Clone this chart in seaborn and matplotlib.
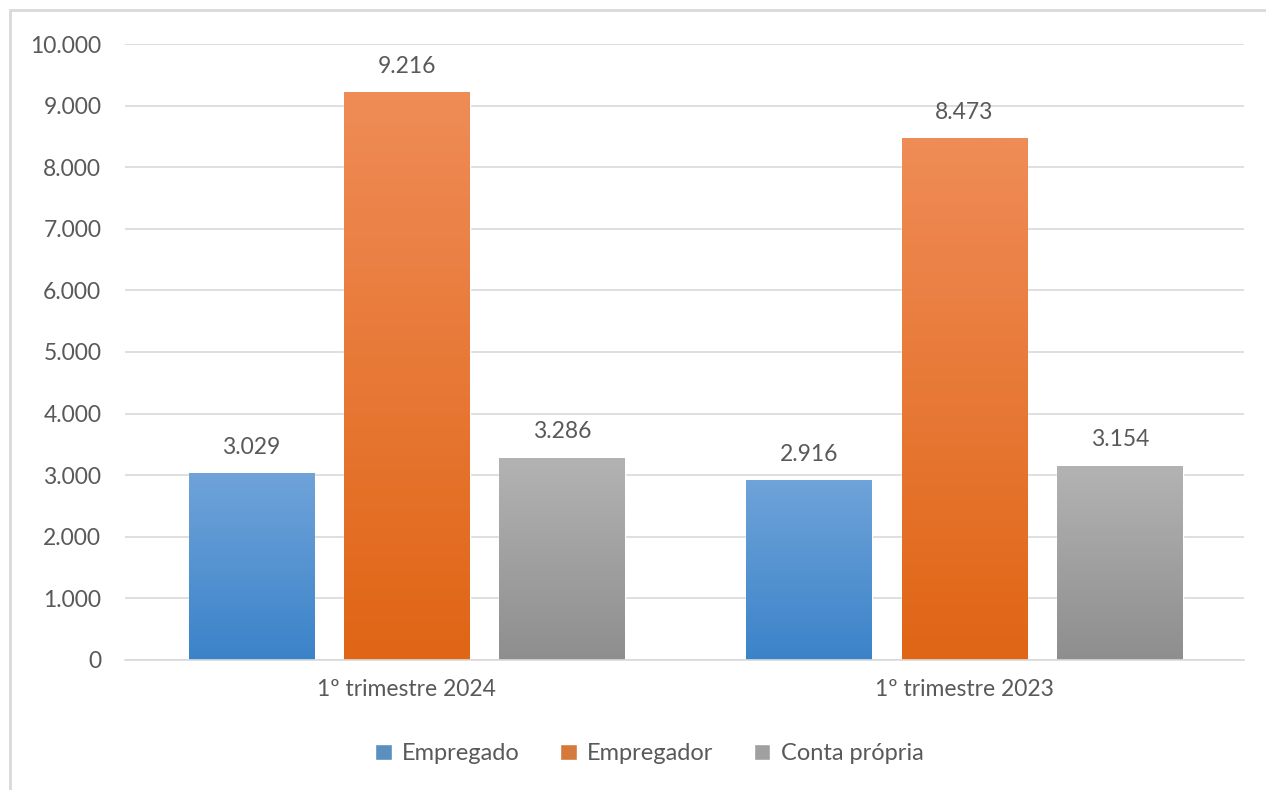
import numpy as np
import pandas as pd
import seaborn as sns
import matplotlib
matplotlib.use("Agg")
import matplotlib.pyplot as plt
from matplotlib.colors import LinearSegmentedColormap
from matplotlib.patches import Rectangle

periods = ["1º trimestre 2024", "1º trimestre 2023"]
series = ["Empregado", "Empregador", "Conta própria"]
empregado = [3029, 2916]
empregador = [9216, 8473]
conta_propria = [3286, 3154]

top_colors = ["#6fa3d9", "#ef8c57", "#b3b3b3"]
bottom_colors = ["#3b83c9", "#e06515", "#8e8e8e"]
base_colors = ["#4a8fd0", "#ee7424", "#a0a0a0"]

df = pd.DataFrame({
    "periodo": periods * 3,
    "serie": [s for s in series for _ in periods],
    "valor": empregado + empregador + conta_propria,
})

sns.set_theme(style="white")
plt.rcParams["font.family"] = ["Lato", "DejaVu Sans"]
text_col = "#595959"
fs = 16.5

fig = plt.figure(figsize=(12.66, 7.9), dpi=100)
ax = fig.add_axes([0.0987, 0.1646, 0.8843, 0.7797])

sns.barplot(data=df, x="periodo", y="valor", hue="serie", order=periods,
            hue_order=series, palette=base_colors, width=0.835, gap=0.19,
            ax=ax, legend=True)

# value labels
for cont in ax.containers:
    labels = [f"{v:,.0f}".replace(",", ".") for v in cont.datavalues]
    ax.bar_label(cont, labels=labels, padding=11, fontsize=fs, color=text_col)

# vertical gradients, clipped to each bar
for i, cont in enumerate(ax.containers):
    cmap = LinearSegmentedColormap.from_list(f"g{i}", [bottom_colors[i], top_colors[i]])
    for bar in cont.patches:
        x0, y0 = bar.get_x(), bar.get_y()
        w, h = bar.get_width(), bar.get_height()
        grad = np.linspace(0, 1, 256).reshape(-1, 1)
        im = ax.imshow(grad, extent=[x0, x0 + w, y0, y0 + h], origin="lower",
                       cmap=cmap, aspect="auto", zorder=bar.get_zorder() + 0.1)
        im.set_clip_path(bar)

ax.set_xlim(-0.505, 1.502)
ax.set_ylim(0, 10000)
ax.set_yticks(np.arange(0, 10001, 1000))
ax.set_yticklabels([f"{v:,.0f}".replace(",", ".") for v in np.arange(0, 10001, 1000)])
ax.set_xlabel("")
ax.set_ylabel("")
ax.grid(axis="y", color="#d9d9d9", linewidth=1.2)
ax.set_axisbelow(True)
for s in ["top", "right", "left"]:
    ax.spines[s].set_visible(False)
ax.spines["bottom"].set_color("#d9d9d9")
ax.spines["bottom"].set_linewidth(1.2)
ax.tick_params(axis="y", length=0, pad=17, labelsize=fs, labelcolor=text_col)
ax.tick_params(axis="x", length=0, pad=14, labelsize=fs, labelcolor=text_col)

handles, lbls = ax.get_legend_handles_labels()
ax.get_legend().remove()
fig.legend(handles, lbls, loc="center", bbox_to_anchor=(0.513, 0.046), ncol=3,
           frameon=False, fontsize=fs + 0.5, labelcolor=text_col, handlelength=0.7,
           handleheight=0.7, handletextpad=0.45, columnspacing=1.7)

# outer chart border
fig.patches.append(Rectangle((10 / 1266, -0.1), 1.2, 0.1 + 1 - 10 / 790,
                             transform=fig.transFigure, fill=False,
                             edgecolor="#d9d9d9", linewidth=2))

fig.savefig("out.png", dpi=100)
